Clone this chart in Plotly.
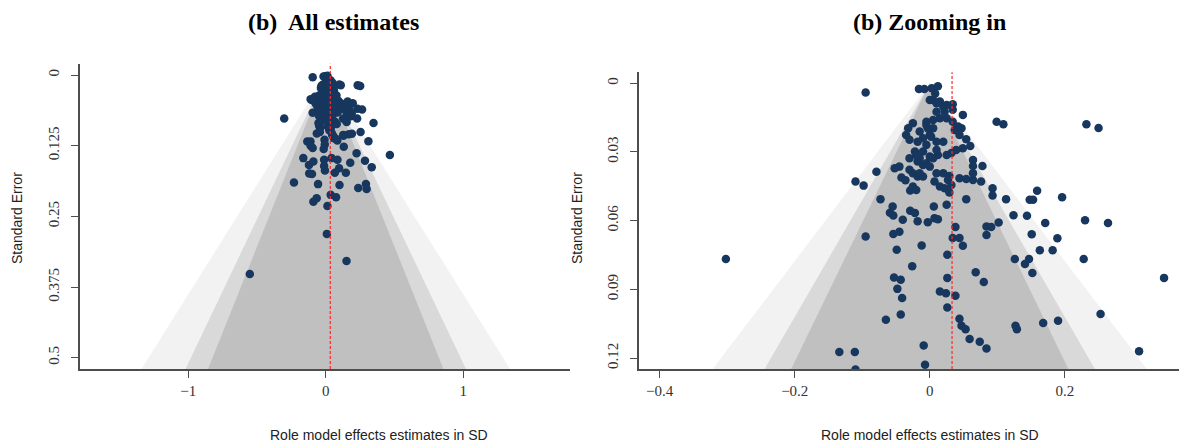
import plotly.graph_objects as go

# ---------------- data ----------------
estimates = [
    -0.095, -0.016, -0.008, 0.003, 0.012, 0.008, 0.000, 0.005, 0.010, 0.015,
    0.020, 0.025, 0.034, 0.034, 0.049, 0.099, 0.109, 0.232, 0.250, 0.054,
    0.060, 0.010, 0.022, 0.015, 0.005, 0.025, 0.034, 0.042, 0.047, 0.037,
    0.044, 0.049, 0.039, 0.032, 0.025, 0.012, 0.000, -0.010, -0.005, -0.010,
    0.000, 0.010, 0.020, 0.005, -0.005, -0.015, -0.005, -0.003, -0.025, -0.032,
    -0.035, -0.030, -0.018, 0.002, -0.022, -0.030, -0.018, -0.010, 0.000, 0.005,
    0.010, -0.045, -0.015, -0.020, -0.005, -0.052, -0.042, -0.036, -0.030, -0.025,
    -0.018, -0.010, -0.025, -0.020, -0.029, -0.015, 0.010, 0.020, 0.029, 0.007,
    0.015, 0.022, 0.029, 0.032, 0.027, 0.044, 0.054, 0.064, 0.076, 0.064,
    0.064, 0.078, 0.064, 0.093, 0.093, 0.159, 0.113, 0.148, 0.153, 0.196,
    0.124, 0.144, 0.171, 0.230, 0.264, 0.084, 0.091, 0.102, 0.084, 0.038,
    0.034, 0.044, 0.049, 0.151, 0.189, 0.163, 0.182, 0.228, 0.126, 0.141,
    0.147, 0.152, 0.026, 0.068, 0.080, 0.347, 0.026, 0.015, 0.024, 0.038,
    0.026, 0.253, 0.044, 0.047, 0.053, 0.127, 0.129, 0.168, 0.190, 0.059,
    0.074, 0.084, 0.310, -0.302, -0.110, -0.098, -0.079, -0.073, -0.055, -0.059,
    -0.054, -0.040, -0.029, -0.022, -0.018, -0.003, 0.007, 0.012, 0.006, -0.095,
    -0.054, -0.045, -0.049, -0.012, -0.026, -0.053, -0.043, -0.048, -0.041, -0.043,
    -0.065, -0.009, -0.007, -0.134, -0.111, -0.110, 0.054, 0.025,
    -0.095, -0.015, 0.131, 0.224, 0.466, -0.163, -0.122, -0.090, -0.012, -0.012,
    -0.006, 0.042, 0.085, 0.066, 0.097, 0.146, 0.178, 0.285, 0.334, -0.120,
    -0.100, -0.231, -0.056, 0.100, 0.236, 0.292, 0.297, -0.090, -0.066, 0.012,
    0.036, 0.075, 0.008, 0.151, -0.552,
]
std_errors = [
    0.0040, 0.0025, 0.0025, 0.0022, 0.0013, 0.0045, 0.0073, 0.0073, 0.0087, 0.0080,
    0.0102, 0.0095, 0.0092, 0.0116, 0.0138, 0.0168, 0.0179, 0.0179, 0.0195, 0.0244,
    0.0274, 0.0124, 0.0124, 0.0153, 0.0160, 0.0153, 0.0168, 0.0189, 0.0196, 0.0204,
    0.0226, 0.0284, 0.0291, 0.0305, 0.0313, 0.0313, 0.0320, 0.0298, 0.0269, 0.0240,
    0.0226, 0.0255, 0.0255, 0.0196, 0.0182, 0.0211, 0.0168, 0.0196, 0.0175, 0.0196,
    0.0226, 0.0247, 0.0255, 0.0233, 0.0298, 0.0327, 0.0342, 0.0357, 0.0364, 0.0327,
    0.0291, 0.0364, 0.0327, 0.0313, 0.0349, 0.0371, 0.0412, 0.0424, 0.0378, 0.0393,
    0.0407, 0.0407, 0.0451, 0.0466, 0.0468, 0.0393, 0.0393, 0.0393, 0.0405, 0.0429,
    0.0451, 0.0458, 0.0477, 0.0444, 0.0422, 0.0415, 0.0418, 0.0422, 0.0429, 0.0335,
    0.0361, 0.0361, 0.0393, 0.0458, 0.0490, 0.0469, 0.0506, 0.0509, 0.0509, 0.0498,
    0.0576, 0.0579, 0.0610, 0.0598, 0.0610, 0.0626, 0.0628, 0.0608, 0.0663, 0.0628,
    0.0676, 0.0676, 0.0710, 0.0659, 0.0677, 0.0729, 0.0729, 0.0768, 0.0768, 0.0789,
    0.0768, 0.0829, 0.0749, 0.0825, 0.0868, 0.0850, 0.0850, 0.0909, 0.0917, 0.0928,
    0.0979, 0.1008, 0.1029, 0.1059, 0.1074, 0.1059, 0.1074, 0.1047, 0.1037, 0.1117,
    0.1129, 0.1158, 0.1170, 0.0768, 0.0429, 0.0447, 0.0386, 0.0506, 0.0538, 0.0565,
    0.0578, 0.0596, 0.0557, 0.0567, 0.0603, 0.0607, 0.0589, 0.0594, 0.0538, 0.0669,
    0.0658, 0.0648, 0.0727, 0.0709, 0.0799, 0.0848, 0.0858, 0.0898, 0.0938, 0.1010,
    0.1033, 0.1145, 0.1229, 0.1174, 0.1174, 0.1250, 0.0506, 0.0531,
    0.129, 0.131, 0.127, 0.1385, 0.1415, 0.147, 0.159, 0.153, 0.150, 0.161,
    0.169, 0.147, 0.150, 0.173, 0.165, 0.173, 0.155, 0.1515, 0.163, 0.174,
    0.175, 0.190, 0.193, 0.1945, 0.200, 0.193, 0.2016, 0.224, 0.218, 0.2317,
    0.212, 0.216, 0.281, 0.329, 0.352,
]
pooled_estimate = 0.033

contour_labels = ["99%", "95%", "90%"]
contour_z = [2.576, 1.960, 1.645]
contour_colors = ["#f2f2f2", "#d9d9d9", "#c0c0c0"]

panel_titles = ["<b>(b)  All estimates</b>", "<b>(b) Zooming in</b>"]
x_title = "Role model effects estimates in SD"
y_title = "Standard Error"

left_xticks = [-1, 0, 1]
left_yticks = [0, 0.125, 0.25, 0.375, 0.5]
left_yticktext = ["0", "0.125", "0.25", "0.375", "0.5"]
right_xticks = [-0.4, -0.2, 0, 0.2]
right_yticks = [0, 0.03, 0.06, 0.09, 0.12]
right_yticktext = ["0", "0.03", "0.06", "0.09", "0.12"]

# ---------------- layout geometry ----------------
# the page body has an 8px margin; positions below are page pixels
OFF = 8
W, H = 1187 - OFF, 445 - OFF


def px(v):
    return (v - OFF) / W


def py(v):
    return 1 - (v - OFF) / H


panels = [
    dict(xa="x", ya="y", xrange=[-1.786, 1.775], yrange=[0.52, -0.02],
         xdom=[px(80), px(570)], ydom=[py(369), py(63.7)],
         xticks=left_xticks, yticks=left_yticks, yticktext=left_yticktext,
         title_x=333, ytitle_x=17, xtitle_x=379),
    dict(xa="x2", ya="y2", xrange=[-0.4307, 0.381], yrange=[0.1248, -0.0048],
         xdom=[px(639), 1.0], ydom=[py(369), py(72.3)],
         xticks=right_xticks, yticks=right_yticks, yticktext=right_yticktext,
         title_x=929, ytitle_x=577, xtitle_x=930),
]

fig = go.Figure()
axis_color = "#4d4d4d"
serif = "Liberation Serif, Times New Roman, serif"
sans = "Liberation Sans, Arial, sans-serif"

for i, p in enumerate(panels):
    ybot = p["yrange"][0]
    for lab, z, col in zip(contour_labels, contour_z, contour_colors):
        fig.add_trace(go.Scatter(
            x=[0, -z * ybot, z * ybot, 0], y=[0, ybot, ybot, 0],
            mode="lines", fill="toself", fillcolor=col,
            line=dict(width=0, color=col), hoverinfo="skip",
            showlegend=False, xaxis=p["xa"], yaxis=p["ya"], name=lab))
    fig.add_trace(go.Scatter(
        x=estimates, y=std_errors, mode="markers",
        marker=dict(color="#17375e", size=8.5, line=dict(width=0)),
        showlegend=False, xaxis=p["xa"], yaxis=p["ya"], cliponaxis=True))
    fig.add_shape(type="line", xref=p["xa"], yref=p["ya"] + " domain",
                  x0=pooled_estimate, x1=pooled_estimate, y0=0, y1=1,
                  line=dict(color="#ff2a2a", width=1.2, dash="3px,2px"),
                  layer="above")
    suffix = "" if i == 0 else "2"
    fig.layout["xaxis" + suffix] = dict(
        domain=p["xdom"], range=p["xrange"], anchor=p["ya"],
        showgrid=False, zeroline=False, showline=True, linecolor=axis_color,
        linewidth=1.5, ticks="outside", ticklen=7, tickcolor=axis_color,
        tickwidth=1.2, tickvals=p["xticks"],
        tickfont=dict(family=serif, size=15, color="#333"))
    fig.layout["yaxis" + suffix] = dict(
        domain=p["ydom"], range=p["yrange"], anchor=p["xa"],
        showgrid=False, zeroline=False, showline=True, linecolor=axis_color,
        linewidth=1.5, ticks="outside", ticklen=7, tickcolor=axis_color,
        tickwidth=1.2, tickvals=p["yticks"], ticktext=p["yticktext"],
        tickangle=-90, ticklabelstandoff=6,
        tickfont=dict(family=serif, size=15, color="#333"))
    fig.add_annotation(text=panel_titles[i], x=px(p["title_x"]), y=py(22),
                       xref="paper", yref="paper", showarrow=False,
                       xanchor="center", yanchor="middle",
                       font=dict(family=serif, size=24, color="#000"))
    fig.add_annotation(text=y_title, x=px(p["ytitle_x"]), y=py(218),
                       xref="paper", yref="paper", showarrow=False, textangle=-90,
                       xanchor="center", yanchor="middle",
                       font=dict(family=sans, size=14, color="#222"))
    fig.add_annotation(text=x_title, x=px(p["xtitle_x"]), y=py(435),
                       xref="paper", yref="paper", showarrow=False,
                       xanchor="center", yanchor="middle",
                       font=dict(family=sans, size=14, color="#222"))

fig.update_layout(width=W, height=H, margin=dict(l=0, r=0, t=0, b=0),
                  plot_bgcolor="white", paper_bgcolor="white")
fig.write_html("out.html")
